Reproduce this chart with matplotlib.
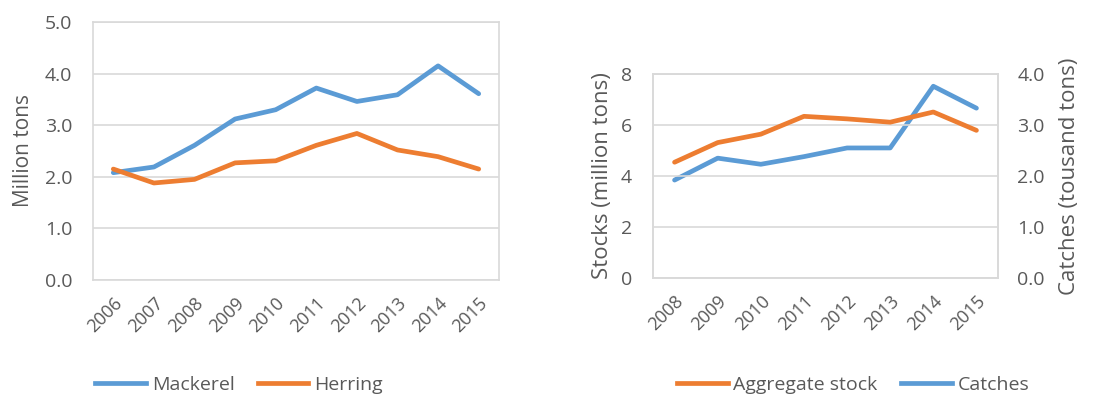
import matplotlib
matplotlib.use("Agg")
import matplotlib.pyplot as plt
from matplotlib.lines import Line2D

plt.rcParams['font.family'] = ['Open Sans', 'DejaVu Sans']

years_left = ['2006', '2007', '2008', '2009', '2010', '2011', '2012', '2013', '2014', '2015']
mackerel = [2.08, 2.19, 2.61, 3.12, 3.30, 3.72, 3.46, 3.59, 4.15, 3.61]
herring = [2.15, 1.88, 1.95, 2.27, 2.31, 2.61, 2.84, 2.52, 2.39, 2.15]

years_right = ['2008', '2009', '2010', '2011', '2012', '2013', '2014', '2015']
aggregate_stock = [4.54, 5.31, 5.64, 6.34, 6.24, 6.11, 6.51, 5.79]
catches = [1.92, 2.35, 2.23, 2.38, 2.55, 2.55, 3.76, 3.33]

blue = '#5B9BD5'
orange = '#ED7D31'
text_c = '#595959'
grid_c = '#D9D9D9'

fig = plt.figure(figsize=(11.15, 4.01), dpi=100)


def style(ax):
    for s in ax.spines.values():
        s.set_color(grid_c)
        s.set_linewidth(1.2)
    ax.tick_params(length=0, colors=text_c, labelsize=14)
    ax.tick_params(axis='x', labelsize=13)
    ax.yaxis.grid(True, color=grid_c, linewidth=1.2)
    ax.set_axisbelow(True)


# left chart
ax1 = fig.add_axes([93 / 1115, 121 / 401, 406 / 1115, 258 / 401])
x1 = range(len(years_left))
ax1.plot(x1, mackerel, color=blue, lw=3.4, solid_capstyle='round')
ax1.plot(x1, herring, color=orange, lw=3.4, solid_capstyle='round')
ax1.set_xlim(-0.5, len(years_left) - 0.5)
ax1.set_ylim(0, 5)
ax1.set_yticks([0, 1, 2, 3, 4, 5])
ax1.set_yticklabels(['0.0', '1.0', '2.0', '3.0', '4.0', '5.0'])
ax1.set_xticks(list(x1))
ax1.set_xticklabels(years_left, rotation=45, ha='right', rotation_mode='anchor')
style(ax1)
ax1.tick_params(axis='y', pad=15)
ax1.tick_params(axis='x', pad=10)
ax1.set_ylabel('Million tons', color=text_c, fontsize=15, labelpad=8)
ax1.legend(handles=[Line2D([], [], color=blue, lw=3.4), Line2D([], [], color=orange, lw=3.4)],
           labels=['Mackerel', 'Herring'], loc='center', bbox_to_anchor=(0.36, -0.407),
           ncol=2, frameon=False, fontsize=14, handlelength=2.6, handletextpad=0.3,
           columnspacing=1.2, labelcolor=text_c)

# right chart
ax2 = fig.add_axes([653 / 1115, 123 / 401, 345 / 1115, 204 / 401])
x2 = range(len(years_right))
ax3 = ax2.twinx()
ax3.plot(x2, catches, color=blue, lw=3.4, solid_capstyle='round')
ax2.plot(x2, aggregate_stock, color=orange, lw=3.4, solid_capstyle='round')
ax2.set_zorder(ax3.get_zorder() + 1)
ax2.patch.set_visible(False)
ax2.set_xlim(-0.5, len(years_right) - 0.5)
ax2.set_ylim(0, 8)
ax2.set_yticks([0, 2, 4, 6, 8])
ax3.set_ylim(0, 4)
ax3.set_yticks([0, 1, 2, 3, 4])
ax3.set_yticklabels(['0.0', '1.0', '2.0', '3.0', '4.0'])
ax2.set_xticks(list(x2))
ax2.set_xticklabels(years_right, rotation=45, ha='right', rotation_mode='anchor')
style(ax2)
style(ax3)
ax3.yaxis.grid(False)
ax2.tick_params(axis='y', pad=15)
ax3.tick_params(axis='y', pad=14)
ax2.tick_params(axis='x', pad=10)
ax2.set_ylabel('Stocks (million tons)', color=text_c, fontsize=16, labelpad=6)
ax3.set_ylabel('Catches (tousand tons)', color=text_c, fontsize=16, labelpad=10)
ax2.legend(handles=[Line2D([], [], color=orange, lw=3.4), Line2D([], [], color=blue, lw=3.4)],
           labels=['Aggregate stock', 'Catches'], loc='center', bbox_to_anchor=(0.58, -0.525),
           ncol=2, frameon=False, fontsize=14, handlelength=2.6, handletextpad=0.3,
           columnspacing=1.2, labelcolor=text_c)

fig.savefig('out.png', dpi=100)
